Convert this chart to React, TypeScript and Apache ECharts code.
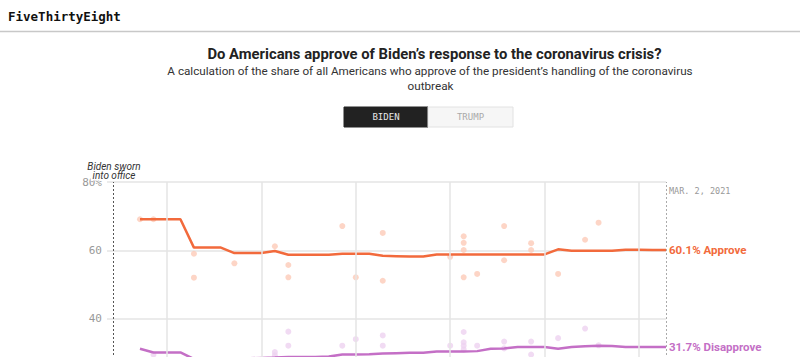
import React, { useEffect, useRef } from "react";
import * as echarts from "echarts";

// ---- data ----
const lineDates = [
  "2021-01-22", "2021-01-23", "2021-01-24", "2021-01-25", "2021-01-26", "2021-01-27", "2021-01-28", "2021-01-29", "2021-01-30", "2021-01-31",
  "2021-02-01", "2021-02-02", "2021-02-03", "2021-02-04", "2021-02-05", "2021-02-06", "2021-02-07", "2021-02-08", "2021-02-09", "2021-02-10",
  "2021-02-11", "2021-02-12", "2021-02-13", "2021-02-14", "2021-02-15", "2021-02-16", "2021-02-17", "2021-02-18", "2021-02-19", "2021-02-20",
  "2021-02-21", "2021-02-22", "2021-02-23", "2021-02-24", "2021-02-25", "2021-02-26", "2021-02-27", "2021-02-28", "2021-03-01", "2021-03-02",
];
const approveValues = [
  69.1, 69.1, 69.1, 69.1, 60.8, 60.8, 60.8, 59.2, 59.2, 59.2,
  59.8, 58.7, 58.7, 58.7, 58.7, 59.0, 59.0, 59.0, 58.4, 58.3,
  58.2, 58.2, 58.8, 58.8, 58.8, 58.8, 58.8, 58.8, 58.8, 58.8,
  58.8, 60.3, 59.9, 59.9, 59.9, 59.9, 60.2, 60.2, 60.1, 60.1,
];
const disapproveValues = [
  31.2, 30.1, 30.1, 30.1, 28.2, 28.2, 28.2, 28.4, 28.4, 28.5,
  28.6, 28.8, 28.8, 28.8, 28.9, 29.5, 29.5, 29.6, 29.8, 29.9,
  30.0, 30.0, 30.4, 30.4, 30.4, 30.5, 31.2, 31.3, 31.7, 31.7,
  31.7, 31.2, 31.7, 31.9, 32.1, 32.0, 31.7, 31.7, 31.7, 31.7,
];
const approvePollDates = [
  "2021-01-22", "2021-01-23", "2021-01-26", "2021-01-26", "2021-01-29", "2021-02-01", "2021-02-02", "2021-02-02",
  "2021-02-06", "2021-02-07", "2021-02-09", "2021-02-09", "2021-02-14", "2021-02-15", "2021-02-15", "2021-02-15",
  "2021-02-15", "2021-02-16", "2021-02-18", "2021-02-18", "2021-02-20", "2021-02-20", "2021-02-22", "2021-02-24", "2021-02-25",
];
const approvePollValues = [
  69.1, 69.1, 59.0, 52.0, 56.2, 61.2, 55.7, 52.1,
  67.1, 52.1, 65.1, 51.1, 58.1, 64.1, 62.2, 60.1,
  52.1, 53.1, 67.1, 57.1, 62.1, 60.1, 53.1, 63.1, 68.1,
];
const disapprovePollDates = [
  "2021-01-23", "2021-02-01", "2021-02-01", "2021-02-02", "2021-02-02", "2021-02-06", "2021-02-07", "2021-02-09",
  "2021-02-09", "2021-02-14", "2021-02-15", "2021-02-15", "2021-02-15", "2021-02-15", "2021-02-16", "2021-02-18",
  "2021-02-18", "2021-02-20", "2021-02-20", "2021-02-22", "2021-02-24", "2021-02-25",
];
const disapprovePollValues = [
  29.5, 30.2, 29.3, 36.2, 32.1, 32.1, 34.0, 35.1,
  32.1, 32.1, 36.1, 33.1, 32.1, 31.0, 32.1, 33.3,
  31.3, 33.3, 29.5, 34.3, 37.1, 32.2,
];
const weekGridDates = ["2021-01-24", "2021-01-31", "2021-02-07", "2021-02-14", "2021-02-21", "2021-02-28"];
const inaugurationDate = "2021-01-20";
const latestDate = "2021-03-02";
const latestDateLabel = "MAR. 2, 2021";
const yMin = 20;
const yMax = 80;
const yInterval = 20;

const APPROVE = "#f26a3c";
const DISAPPROVE = "#c46fc6";

const day = (s: string) => new Date(s + "T00:00:00Z").getTime();
const DAY_MS = 86400000;

export default function App() {
  const ref = useRef<HTMLDivElement>(null);

  useEffect(() => {
    if (!ref.current) return;
    const chart = echarts.init(ref.current, undefined, { renderer: "svg" });

    const approveLine = lineDates.map((d, i) => [day(d), approveValues[i]]);
    const disapproveLine = lineDates.map((d, i) => [day(d), disapproveValues[i]]);
    const approvePolls = approvePollDates.map((d, i) => [day(d), approvePollValues[i]]);
    const disapprovePolls = disapprovePollDates.map((d, i) => [day(d), disapprovePollValues[i]]);

    const option: any = {
      animation: false,
      grid: { left: 107, top: 182, width: 559, height: 205, containLabel: false, outerBoundsMode: "none" },
      xAxis: {
        type: "time",
        min: day(inaugurationDate) - 0.445 * DAY_MS,
        max: day(latestDate),
        axisLabel: { show: false },
        axisLine: { show: false },
        axisTick: { show: false },
        splitLine: { show: false },
      },
      yAxis: {
        type: "value",
        min: yMin,
        max: yMax,
        interval: yInterval,
        axisLine: { show: false },
        axisTick: { show: false },
        axisLabel: {
          margin: 5,
          color: "#999",
          fontFamily: "DejaVu Sans Mono",
          fontSize: 11,
          formatter: (v: number) => (v === yMax ? v + "%" : v === yMin ? "" : String(v)),
        },
        splitLine: { lineStyle: { color: "#e4e4e4", width: 1.5 } },
      },
      graphic: [
        { type: "text", left: 8, top: 10, z: 100, style: { text: "FiveThirtyEight", fontFamily: "DejaVu Sans Mono", fontWeight: "bold", fontSize: 12.5, fill: "#111" } },
        { type: "line", z: 100, shape: { x1: 0, y1: 31.5, x2: 800, y2: 31.5 }, style: { stroke: "#c8c8c8", lineWidth: 1.5 } },
        { type: "text", x: 434.5, y: 53.5, z: 100, style: { text: "Do Americans approve of Biden’s response to the coronavirus crisis?", textAlign: "center", textVerticalAlign: "middle", fontFamily: "Roboto", fontWeight: "bold", fontSize: 14.8, fill: "#222" } },
        { type: "text", x: 430, y: 71, z: 100, style: { text: "A calculation of the share of all Americans who approve of the president’s handling of the coronavirus", textAlign: "center", textVerticalAlign: "middle", fontFamily: "Roboto", fontSize: 11.7, fill: "#333" } },
        { type: "text", x: 430.5, y: 86, z: 100, style: { text: "outbreak", textAlign: "center", textVerticalAlign: "middle", fontFamily: "Roboto", fontSize: 11.7, fill: "#333" } },
        { type: "rect", z: 100, shape: { x: 344, y: 107, width: 84, height: 20 }, style: { fill: "#222", stroke: "#222", lineWidth: 1 } },
        { type: "rect", z: 100, shape: { x: 428, y: 107, width: 85, height: 20 }, style: { fill: "#f6f6f6", stroke: "#e2e2e2", lineWidth: 1 } },
        { type: "text", x: 386, y: 117, z: 101, style: { text: "BIDEN", textAlign: "center", textVerticalAlign: "middle", fontFamily: "DejaVu Sans Mono", fontSize: 9, fill: "#e8e8e8" } },
        { type: "text", x: 470.5, y: 117, z: 101, style: { text: "TRUMP", textAlign: "center", textVerticalAlign: "middle", fontFamily: "DejaVu Sans Mono", fontSize: 9, fill: "#aaa" } },
        { type: "text", x: 114, y: 166, z: 100, style: { text: "Biden sworn", textAlign: "center", textVerticalAlign: "middle", fontFamily: "Roboto", fontStyle: "italic", fontSize: 10, fill: "#333" } },
        { type: "text", x: 114, y: 175.5, z: 100, style: { text: "into office", textAlign: "center", textVerticalAlign: "middle", fontFamily: "Roboto", fontStyle: "italic", fontSize: 10, fill: "#333", backgroundColor: "#fff", padding: [0, 2, 0, 2] } },
        { type: "text", x: 669, y: 190.5, z: 100, style: { text: latestDateLabel, textAlign: "left", textVerticalAlign: "middle", fontFamily: "DejaVu Sans Mono", fontSize: 8.5, fill: "#999" } },
      ],
      series: [
        {
          type: "line",
          data: [],
          z: 1,
          silent: true,
          markLine: {
            silent: true,
            symbol: ["none", "none"],
            label: { show: false },
            animation: false,
            data: [
              ...weekGridDates.map((d) => ({ xAxis: day(d), lineStyle: { color: "#e4e4e4", width: 1.5, type: "solid" } })),
              { xAxis: day(inaugurationDate), lineStyle: { color: "#555", width: 1, type: [2, 2] } },
              { xAxis: day(latestDate), lineStyle: { color: "#aaa", width: 1, type: [2, 2] } },
            ],
          },
        },
        {
          name: "Approve polls",
          type: "scatter",
          z: 2,
          symbolSize: 6,
          data: approvePolls,
          itemStyle: { color: "#fccbb8" },
        },
        {
          name: "Disapprove polls",
          type: "scatter",
          z: 2,
          symbolSize: 6,
          data: disapprovePolls,
          itemStyle: { color: "#eed2f0" },
        },
        {
          name: "Approve",
          type: "line",
          z: 3,
          data: approveLine,
          showSymbol: false,
          lineStyle: { color: APPROVE, width: 2.5 },
          itemStyle: { color: APPROVE },
          endLabel: {
            show: true,
            distance: 3,
            formatter: (p: any) => p.value[1].toFixed(1) + "% Approve",
            color: APPROVE,
            fontFamily: "Roboto",
            fontWeight: "bold",
            fontSize: 11.5,
          },
        },
        {
          name: "Disapprove",
          type: "line",
          z: 3,
          data: disapproveLine,
          showSymbol: false,
          lineStyle: { color: DISAPPROVE, width: 2.5 },
          itemStyle: { color: DISAPPROVE },
          endLabel: {
            show: true,
            distance: 3,
            formatter: (p: any) => p.value[1].toFixed(1) + "% Disapprove",
            color: DISAPPROVE,
            fontFamily: "Roboto",
            fontWeight: "bold",
            fontSize: 11.5,
          },
        },
      ],
    };

    chart.setOption(option);
    return () => chart.dispose();
  }, []);

  return (
    <div style={{ position: "fixed", left: 0, top: 0, width: 800, height: 357, overflow: "hidden", background: "#fff" }}>
      <div ref={ref} style={{ width: 800, height: 420 }} />
    </div>
  );
}
